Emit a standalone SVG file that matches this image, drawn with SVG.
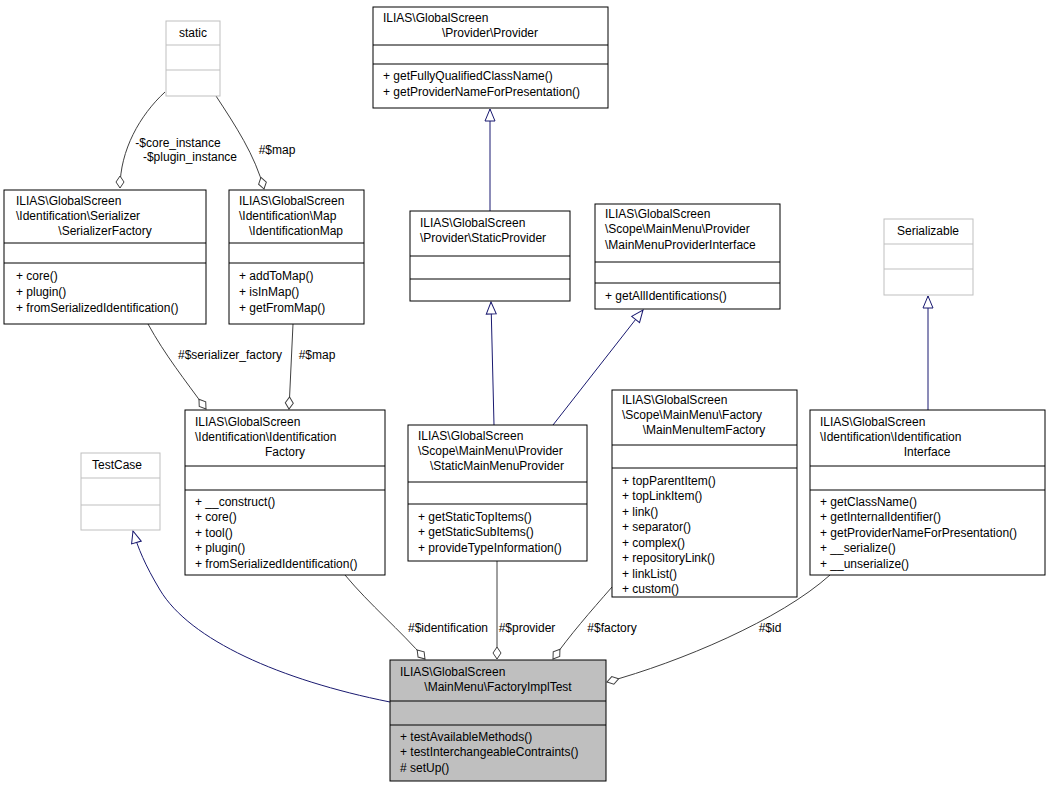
<svg xmlns="http://www.w3.org/2000/svg" width="1051" height="787" viewBox="0 0 1051 787">
<style>
text{font-family:"Liberation Sans",Arial,sans-serif;font-size:12px;fill:#000}
.n{fill:#fff;stroke:#000;stroke-width:1}
.g{fill:#fff;stroke:#bfbfbf;stroke-width:1}
.h{fill:#bfbfbf;stroke:#000;stroke-width:1}
.l{stroke:#000;stroke-width:1}
.lg{stroke:#bfbfbf;stroke-width:1}
.c{text-anchor:middle}
.e{fill:none;stroke:#404040;stroke-width:1}
.i{fill:none;stroke:#191970;stroke-width:1}
</style>
<defs>
<marker id="dia" viewBox="0 0 14 10" refX="13" refY="5" markerWidth="14" markerHeight="10" markerUnits="userSpaceOnUse" orient="auto">
<path d="M1,5 L7,1 L13,5 L7,9 Z" fill="#fff" stroke="#404040"/>
</marker>
<marker id="tri" viewBox="0 0 14 12" refX="13" refY="6" markerWidth="14" markerHeight="12" markerUnits="userSpaceOnUse" orient="auto">
<path d="M1,1 L13,6 L1,11 Z" fill="#fff" stroke="#191970"/>
</marker>
</defs>
<g id="connectors">
<path class="e" d="M165,92 C140,115 120,150 120,188" marker-end="url(#dia)"/>
<text x="178" y="147" class="c">-$core_instance</text>
<text x="190" y="161" class="c">-$plugin_instance</text>
<path class="e" d="M216,96 C235,125 255,155 264,189" marker-end="url(#dia)"/>
<text x="277" y="154" class="c">#$map</text>
<path class="e" d="M148,324 C165,355 185,380 206,409" marker-end="url(#dia)"/>
<text x="230" y="359" class="c">#$serializer_factory</text>
<path class="e" d="M293,324 L289,409" marker-end="url(#dia)"/>
<text x="317" y="359" class="c">#$map</text>
<path class="i" d="M490,211 L490,109" marker-end="url(#tri)"/>
<path class="i" d="M494,425 L491,302" marker-end="url(#tri)"/>
<path class="i" d="M553,425 L643,310" marker-end="url(#tri)"/>
<path class="i" d="M928,410 L928,296" marker-end="url(#tri)"/>
<path class="i" d="M390,702 C280,680 190,640 160,590 C145,565 138,548 133,531" marker-end="url(#tri)"/>
<path class="e" d="M345,575 C370,605 400,630 425,659" marker-end="url(#dia)"/>
<text x="448" y="632" class="c">#$identification</text>
<path class="e" d="M497,561 L497,659" marker-end="url(#dia)"/>
<text x="527" y="632" class="c">#$provider</text>
<path class="e" d="M612,587 C590,612 570,635 553,659" marker-end="url(#dia)"/>
<text x="612" y="632" class="c">#$factory</text>
<path class="e" d="M830,575 C780,620 680,662 607,682" marker-end="url(#dia)"/>
<text x="770" y="632" class="c">#$id</text>
</g>
<g id="static">
<rect class="g" x="166" y="21" width="54" height="75"/>
<line class="lg" x1="166" y1="45" x2="220" y2="45"/><line class="lg" x1="166" y1="70" x2="220" y2="70"/>
<text x="193" y="37" class="c">static</text>
</g>
<g id="SerializerFactory">
<rect class="n" x="4" y="190" width="202" height="134"/>
<line class="l" x1="4" y1="243" x2="206" y2="243"/><line class="l" x1="4" y1="263" x2="206" y2="263"/>
<text x="16" y="205">ILIAS\GlobalScreen</text>
<text x="16" y="220">\Identification\Serializer</text>
<text x="105" y="235" class="c">\SerializerFactory</text>
<text x="16" y="280">+ core()</text>
<text x="16" y="296">+ plugin()</text>
<text x="16" y="312">+ fromSerializedIdentification()</text>
</g>
<g id="IdentificationMap">
<rect class="n" x="229" y="190" width="135" height="134"/>
<line class="l" x1="229" y1="243" x2="364" y2="243"/><line class="l" x1="229" y1="263" x2="364" y2="263"/>
<text x="239" y="205">ILIAS\GlobalScreen</text>
<text x="239" y="220">\Identification\Map</text>
<text x="296" y="235" class="c">\IdentificationMap</text>
<text x="239" y="280">+ addToMap()</text>
<text x="239" y="296">+ isInMap()</text>
<text x="239" y="312">+ getFromMap()</text>
</g>
<g id="Provider">
<rect class="n" x="373" y="7" width="235" height="101"/>
<line class="l" x1="373" y1="45" x2="608" y2="45"/><line class="l" x1="373" y1="64" x2="608" y2="64"/>
<text x="383" y="22">ILIAS\GlobalScreen</text>
<text x="490" y="37" class="c">\Provider\Provider</text>
<text x="383" y="80">+ getFullyQualifiedClassName()</text>
<text x="383" y="96">+ getProviderNameForPresentation()</text>
</g>
<g id="StaticProvider">
<rect class="n" x="410" y="211" width="160" height="90"/>
<line class="l" x1="410" y1="256" x2="570" y2="256"/><line class="l" x1="410" y1="279" x2="570" y2="279"/>
<text x="420" y="227">ILIAS\GlobalScreen</text>
<text x="420" y="242">\Provider\StaticProvider</text>
</g>
<g id="MainMenuProviderInterface">
<rect class="n" x="595" y="204" width="185" height="105"/>
<line class="l" x1="595" y1="262" x2="780" y2="262"/><line class="l" x1="595" y1="283" x2="780" y2="283"/>
<text x="605" y="218">ILIAS\GlobalScreen</text>
<text x="605" y="233">\Scope\MainMenu\Provider</text>
<text x="605" y="249">\MainMenuProviderInterface</text>
<text x="605" y="300">+ getAllIdentifications()</text>
</g>
<g id="Serializable">
<rect class="g" x="884" y="219" width="89" height="76"/>
<line class="lg" x1="884" y1="244" x2="973" y2="244"/><line class="lg" x1="884" y1="269" x2="973" y2="269"/>
<text x="928" y="235" class="c">Serializable</text>
</g>
<g id="TestCase">
<rect class="g" x="81" y="453" width="79" height="77"/>
<line class="lg" x1="81" y1="478" x2="160" y2="478"/><line class="lg" x1="81" y1="505" x2="160" y2="505"/>
<text x="92" y="469">TestCase</text>
</g>
<g id="IdentificationFactory">
<rect class="n" x="185" y="410" width="200" height="165"/>
<line class="l" x1="185" y1="466" x2="385" y2="466"/><line class="l" x1="185" y1="490" x2="385" y2="490"/>
<text x="195" y="426">ILIAS\GlobalScreen</text>
<text x="195" y="441">\Identification\Identification</text>
<text x="285" y="456" class="c">Factory</text>
<text x="195" y="506">+ __construct()</text>
<text x="195" y="521">+ core()</text>
<text x="195" y="537">+ tool()</text>
<text x="195" y="552">+ plugin()</text>
<text x="195" y="568">+ fromSerializedIdentification()</text>
</g>
<g id="StaticMainMenuProvider">
<rect class="n" x="408" y="425" width="179" height="136"/>
<line class="l" x1="408" y1="482" x2="587" y2="482"/><line class="l" x1="408" y1="504" x2="587" y2="504"/>
<text x="418" y="440">ILIAS\GlobalScreen</text>
<text x="418" y="455">\Scope\MainMenu\Provider</text>
<text x="497" y="470" class="c">\StaticMainMenuProvider</text>
<text x="418" y="521">+ getStaticTopItems()</text>
<text x="418" y="536">+ getStaticSubItems()</text>
<text x="418" y="552">+ provideTypeInformation()</text>
</g>
<g id="MainMenuItemFactory">
<rect class="n" x="612" y="390" width="185" height="207"/>
<line class="l" x1="612" y1="445" x2="797" y2="445"/><line class="l" x1="612" y1="468" x2="797" y2="468"/>
<text x="622" y="404">ILIAS\GlobalScreen</text>
<text x="622" y="419">\Scope\MainMenu\Factory</text>
<text x="704" y="434" class="c">\MainMenuItemFactory</text>
<text x="622" y="485">+ topParentItem()</text>
<text x="622" y="500">+ topLinkItem()</text>
<text x="622" y="516">+ link()</text>
<text x="622" y="531">+ separator()</text>
<text x="622" y="547">+ complex()</text>
<text x="622" y="562">+ repositoryLink()</text>
<text x="622" y="578">+ linkList()</text>
<text x="622" y="593">+ custom()</text>
</g>
<g id="IdentificationInterface">
<rect class="n" x="810" y="410" width="235" height="165"/>
<line class="l" x1="810" y1="466" x2="1045" y2="466"/><line class="l" x1="810" y1="490" x2="1045" y2="490"/>
<text x="820" y="426">ILIAS\GlobalScreen</text>
<text x="820" y="441">\Identification\Identification</text>
<text x="927" y="456" class="c">Interface</text>
<text x="820" y="506">+ getClassName()</text>
<text x="820" y="521">+ getInternalIdentifier()</text>
<text x="820" y="537">+ getProviderNameForPresentation()</text>
<text x="820" y="552">+ __serialize()</text>
<text x="820" y="568">+ __unserialize()</text>
</g>
<g id="FactoryImplTest">
<rect class="h" x="390" y="660" width="216" height="121"/>
<line class="l" x1="390" y1="701" x2="606" y2="701"/><line class="l" x1="390" y1="725" x2="606" y2="725"/>
<text x="400" y="676">ILIAS\GlobalScreen</text>
<text x="498" y="691" class="c">\MainMenu\FactoryImplTest</text>
<text x="400" y="741">+ testAvailableMethods()</text>
<text x="400" y="756">+ testInterchangeableContraints()</text>
<text x="400" y="772"># setUp()</text>
</g>
</svg>
